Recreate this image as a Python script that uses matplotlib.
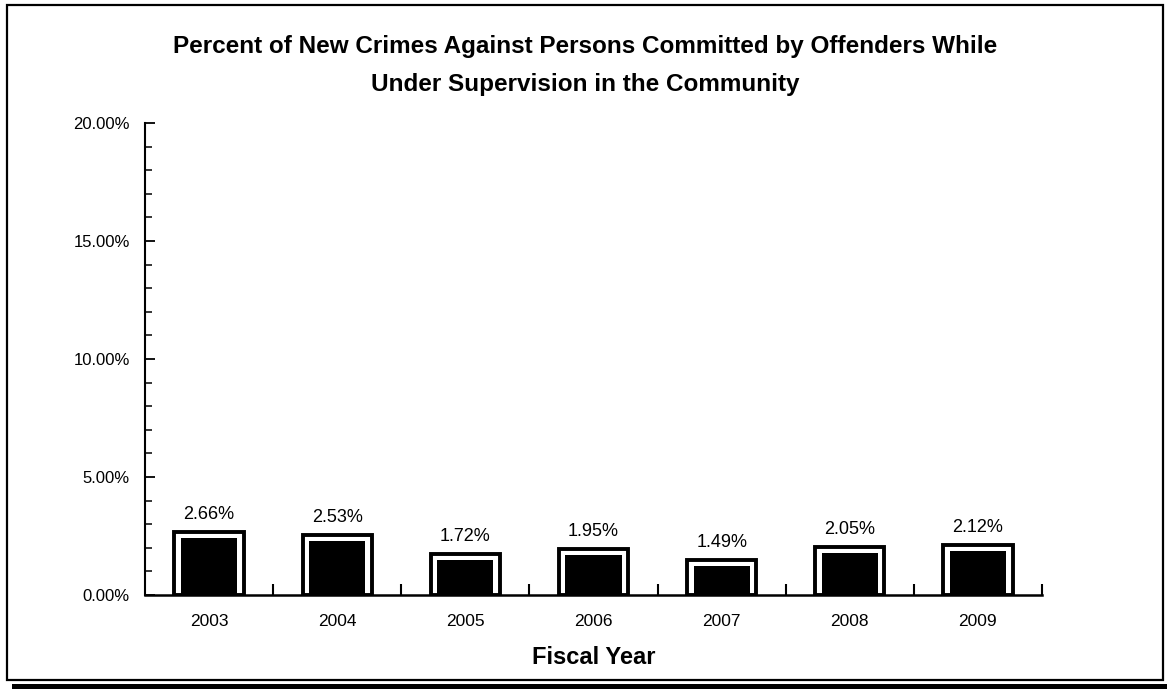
import matplotlib
matplotlib.use("Agg")
import matplotlib.pyplot as plt
from matplotlib.patches import Rectangle
from matplotlib.ticker import MultipleLocator, FuncFormatter

years = ["2003", "2004", "2005", "2006", "2007", "2008", "2009"]
values = [2.66, 2.53, 1.72, 1.95, 1.49, 2.05, 2.12]
labels = ["2.66%", "2.53%", "1.72%", "1.95%", "1.49%", "2.05%", "2.12%"]
title_lines = ["Percent of New Crimes Against Persons Committed by Offenders While",
               "Under Supervision in the Community"]
xlabel = "Fiscal Year"

plt.rcParams["font.family"] = ["Liberation Sans", "DejaVu Sans"]

fig = plt.figure(figsize=(11.67, 6.89), dpi=100)
ax = fig.add_axes([145/1167, 1-595/689, (1042-145)/1167, (595-123)/689])

x = list(range(len(years)))
outer_w = 0.54
ax.bar(x, values, width=outer_w, color="white", edgecolor="black", linewidth=2.8, zorder=2)
inner_w = outer_w - 13/128
ax.bar(x, [v - 6/23.6 for v in values], width=inner_w, color="black", edgecolor="none", zorder=3)

for xi, v, lab in zip(x, values, labels):
    ax.text(xi, v + 0.38, lab, ha="center", va="bottom", fontsize=13, color="black")

ax.set_xlim(-0.5, len(years) - 0.5)
ax.set_ylim(0, 20)
ax.yaxis.set_major_locator(MultipleLocator(5))
ax.yaxis.set_minor_locator(MultipleLocator(1))
ax.yaxis.set_major_formatter(FuncFormatter(lambda v, p: f"{v:.2f}%"))
ax.set_xticks([i + 0.5 for i in x])
ax.set_xticklabels([])
ax.set_xticks(x, minor=True)
ax.set_xticklabels(years, minor=True)
ax.tick_params(axis="x", which="major", direction="in", length=8, width=1.5)
ax.tick_params(axis="x", which="minor", length=0, pad=14, labelsize=12.5)
ax.tick_params(axis="y", which="major", direction="in", length=7, width=1.3, labelsize=12, pad=11)
ax.tick_params(axis="y", which="minor", direction="in", length=5, width=1.1)

for s in ["top", "right"]:
    ax.spines[s].set_visible(False)
ax.spines["left"].set_linewidth(1.5)
ax.spines["bottom"].set_linewidth(1.8)

ax.set_xlabel(xlabel, fontsize=17, fontweight="bold", labelpad=12)
fig.text(585/1167, 1 - 47/689, title_lines[0], ha="center", va="center", fontsize=17.5, fontweight="bold")
fig.text(585/1167, 1 - 85/689, title_lines[1], ha="center", va="center", fontsize=17.5, fontweight="bold")

fig.patches.append(Rectangle((7/1167, 9/689), (1163-7)/1167, (684-9)/689,
                             transform=fig.transFigure, fill=False, edgecolor="black", linewidth=1.6))
fig.patches.append(Rectangle((12/1167, 0/689), (1167-12)/1167, 5/689,
                             transform=fig.transFigure, facecolor="black", edgecolor="none"))

fig.savefig("out.png", dpi=100)
